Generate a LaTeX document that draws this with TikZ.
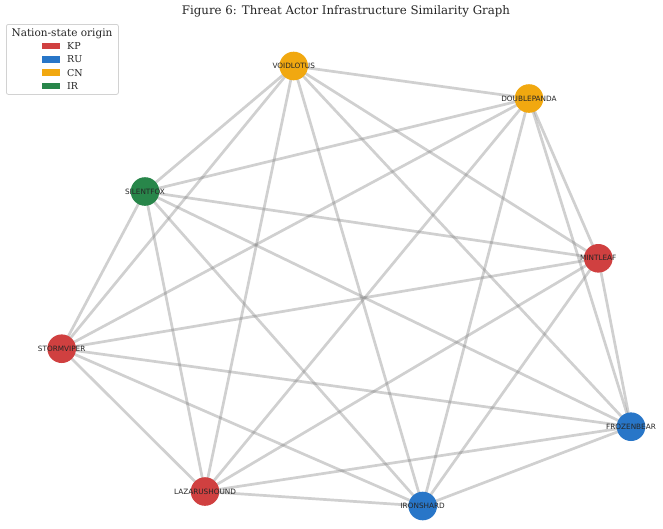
\documentclass[tikz,border=0pt]{standalone}
\usepackage{fontspec}
\newfontfamily\serifdv{DejaVu Serif}
\newfontfamily\sansdv{DejaVu Sans}
\definecolor{kp}{RGB}{208,64,64}
\definecolor{ru}{RGB}{40,118,200}
\definecolor{cn}{RGB}{241,168,16}
\definecolor{ir}{RGB}{40,134,74}
\definecolor{edgec}{RGB}{128,128,128}
\definecolor{legborder}{RGB}{210,210,210}
\pgfdeclarelayer{bg}
\pgfsetlayers{bg,main}
\tikzset{
  actor/.style={circle, minimum size=28.6pt, inner sep=0pt, draw=none},
  lbl/.style={font=\sansdv\fontsize{7.3}{8}\selectfont, text=black!85, inner sep=0pt},
  edge/.style={draw=edgec, draw opacity=0.37, line width=2.7pt},
  legpatch/.style={minimum width=18pt, minimum height=6.5pt, inner sep=0pt},
  legtext/.style={font=\serifdv\fontsize{9.5}{11}\selectfont, anchor=west, inner sep=0pt, text=black!85},
}
\begin{document}
\begin{tikzpicture}[x=1pt,y=-1pt]
\useasboundingbox (0,0) rectangle (663,528);
% title
\node[font=\serifdv\fontsize{11.8}{14}\selectfont, text=black!85] (title) at (346,11.5) {Figure 6: Threat Actor Infrastructure Similarity Graph};
% nodes
\node[actor, fill=cn] (VL) at (293.7,66) {};
\node[actor, fill=cn] (DP) at (529,98.5) {};
\node[actor, fill=ir] (SF) at (145,191.5) {};
\node[actor, fill=kp] (ML) at (598.3,258.3) {};
\node[actor, fill=kp] (SV) at (61.7,348.7) {};
\node[actor, fill=ru] (FB) at (631,426.7) {};
\node[actor, fill=kp] (LH) at (205,491.5) {};
\node[actor, fill=ru] (IS) at (422.7,506) {};
\node[lbl] (VLl) at (VL) {VOIDLOTUS};
\node[lbl] (DPl) at (DP) {DOUBLEPANDA};
\node[lbl] (SFl) at (SF) {SILENTFOX};
\node[lbl] (MLl) at (ML) {MINTLEAF};
\node[lbl] (SVl) at (SV) {STORMVIPER};
\node[lbl] (FBl) at (FB) {FROZENBEAR};
\node[lbl] (LHl) at (LH) {LAZARUSHOUND};
\node[lbl] (ISl) at (IS) {IRONSHARD};
% edges (complete graph)
\begin{pgfonlayer}{bg}
\fill[white] (0,0) rectangle (663,528);
\foreach \a/\b in {VL/DP,VL/SF,VL/ML,VL/SV,VL/FB,VL/LH,VL/IS,
                   DP/SF,DP/ML,DP/SV,DP/FB,DP/LH,DP/IS,
                   SF/ML,SF/SV,SF/FB,SF/LH,SF/IS,
                   ML/SV,ML/FB,ML/LH,ML/IS,
                   SV/FB,SV/LH,SV/IS,
                   FB/LH,FB/IS,
                   LH/IS}
  \draw[edge] (\a.center) -- (\b.center);
\end{pgfonlayer}
% legend
\node[draw=legborder, fill=white, rounded corners=2pt, line width=0.8pt, minimum width=112pt, minimum height=70pt, inner sep=0pt, anchor=north west] (legend) at (6,24) {};
\node[font=\serifdv\fontsize{10.5}{12}\selectfont, text=black!85] (legtitle) at (62,33.3) {Nation-state origin};
\node[legpatch, fill=kp] (pKP) at (51,46) {};
\node[legpatch, fill=ru] (pRU) at (51,59.3) {};
\node[legpatch, fill=cn] (pCN) at (51,72.7) {};
\node[legpatch, fill=ir] (pIR) at (51,86) {};
\node[legtext] (tKP) at (67,46) {KP};
\node[legtext] (tRU) at (67,59.3) {RU};
\node[legtext] (tCN) at (67,72.7) {CN};
\node[legtext] (tIR) at (67,86) {IR};
\end{tikzpicture}
\end{document}
